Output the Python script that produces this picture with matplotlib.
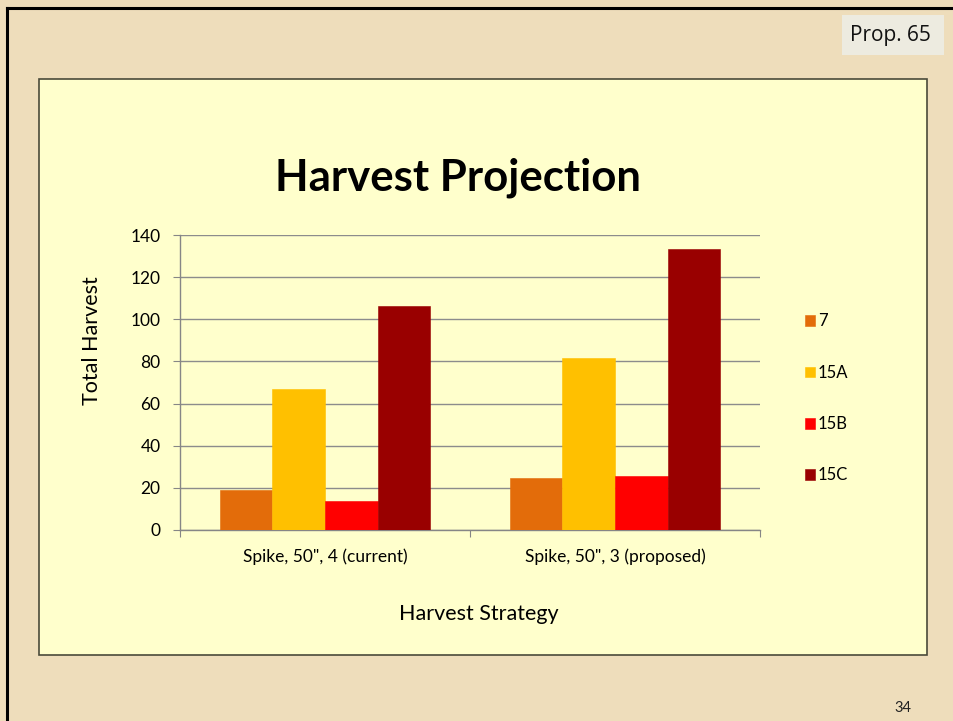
import numpy as np
import matplotlib
matplotlib.use("Agg")
import matplotlib.pyplot as plt
from matplotlib.patches import Rectangle
from matplotlib.lines import Line2D

categories = ['Spike, 50", 4 (current)', 'Spike, 50", 3 (proposed)']
series = ["7", "15A", "15B", "15C"]
values_7 = [19, 24.8]
values_15A = [66.8, 81.6]
values_15B = [13.9, 25.6]
values_15C = [106.3, 133.2]
colors = ["#E36C0A", "#FFC000", "#FF0000", "#990000"]
yticks = [0, 20, 40, 60, 80, 100, 120, 140]

W, H = 954, 721
fig = plt.figure(figsize=(W / 100, H / 100), dpi=100)
fig.patch.set_facecolor("#EEDDBB")

def fx(px):
    return px / W

def fy(py):
    return 1 - py / H

# slide border (top and left)
fig.add_artist(Line2D([fx(7.5), fx(7.5)], [fy(7.5), 0], color="black", lw=2.2))
fig.add_artist(Line2D([fx(7.5), 1], [fy(7.5), fy(7.5)], color="black", lw=2.2))

# chart box
fig.add_artist(Rectangle((fx(39), fy(655)), fx(927) - fx(39), fy(79) - fy(655),
                         facecolor="#FFFFCC", edgecolor="#4A4A3A", lw=1.2, zorder=0))

# prop label box
fig.add_artist(Rectangle((fx(842), fy(55)), fx(944) - fx(842), fy(15) - fy(55),
                         facecolor="#EDEBE0", edgecolor="none", zorder=1))
fig.text(fx(890), fy(35), "Prop. 65", ha="center", va="center",
         fontsize=15, family="Open Sans", color="#111111")
fig.text(fx(903), fy(708), "34", ha="center", va="center",
         fontsize=10.5, family="Lato", color="#222222")

ax = fig.add_axes([fx(180), fy(530), fx(760) - fx(180), fy(235) - fy(530)])
ax.set_facecolor("none")

x = np.arange(len(categories))
w = 0.1817
data = [values_7, values_15A, values_15B, values_15C]
for i, (name, vals) in enumerate(zip(series, data)):
    ax.bar(x + (i - 1.5) * w, vals, width=w, color=colors[i], label=name,
           edgecolor=colors[i], linewidth=0.4, zorder=3)

ax.set_xlim(-0.5, 1.5)
ax.set_ylim(0, 140)
ax.set_yticks(yticks)
ax.set_yticklabels([str(v) for v in yticks], family="Lato", fontsize=12.5)
ax.yaxis.grid(True, color="#8C8C8C", lw=1)
ax.set_axisbelow(True)
ax.set_xticks([-0.5, 0.5, 1.5], minor=False)
ax.set_xticklabels([])
ax.set_xticks(x, minor=True)
ax.set_xticklabels(categories, minor=True, family="Lato", fontsize=12.5)
ax.tick_params(axis="x", which="minor", length=0, pad=13)
ax.tick_params(axis="x", which="major", length=5, color="#868686", direction="out")
ax.tick_params(axis="y", length=5, color="#868686", pad=9)
for s in ["top", "right"]:
    ax.spines[s].set_visible(False)
for s in ["left", "bottom"]:
    ax.spines[s].set_color("#868686")
    ax.spines[s].set_linewidth(1)

fig.text(fx(92), fy(341), "Total Harvest", ha="center", va="center",
         rotation=90, family="Lato", fontsize=15.5)
fig.text(fx(479), fy(614), "Harvest Strategy", ha="center", va="center",
         family="Lato", fontsize=15.5)
fig.text(fx(458), fy(178), "Harvest Projection", ha="center", va="center",
         family="Lato", fontsize=31.5, fontweight="bold")

leg = ax.legend(loc="center left", bbox_to_anchor=(fx(790), fy(398.5)),
                bbox_transform=fig.transFigure, frameon=False,
                prop={"family": "Lato", "size": 12}, handlelength=0.62,
                handleheight=0.62, handletextpad=0.15, labelspacing=2.12)

fig.savefig("out.png", dpi=100, facecolor=fig.get_facecolor())
